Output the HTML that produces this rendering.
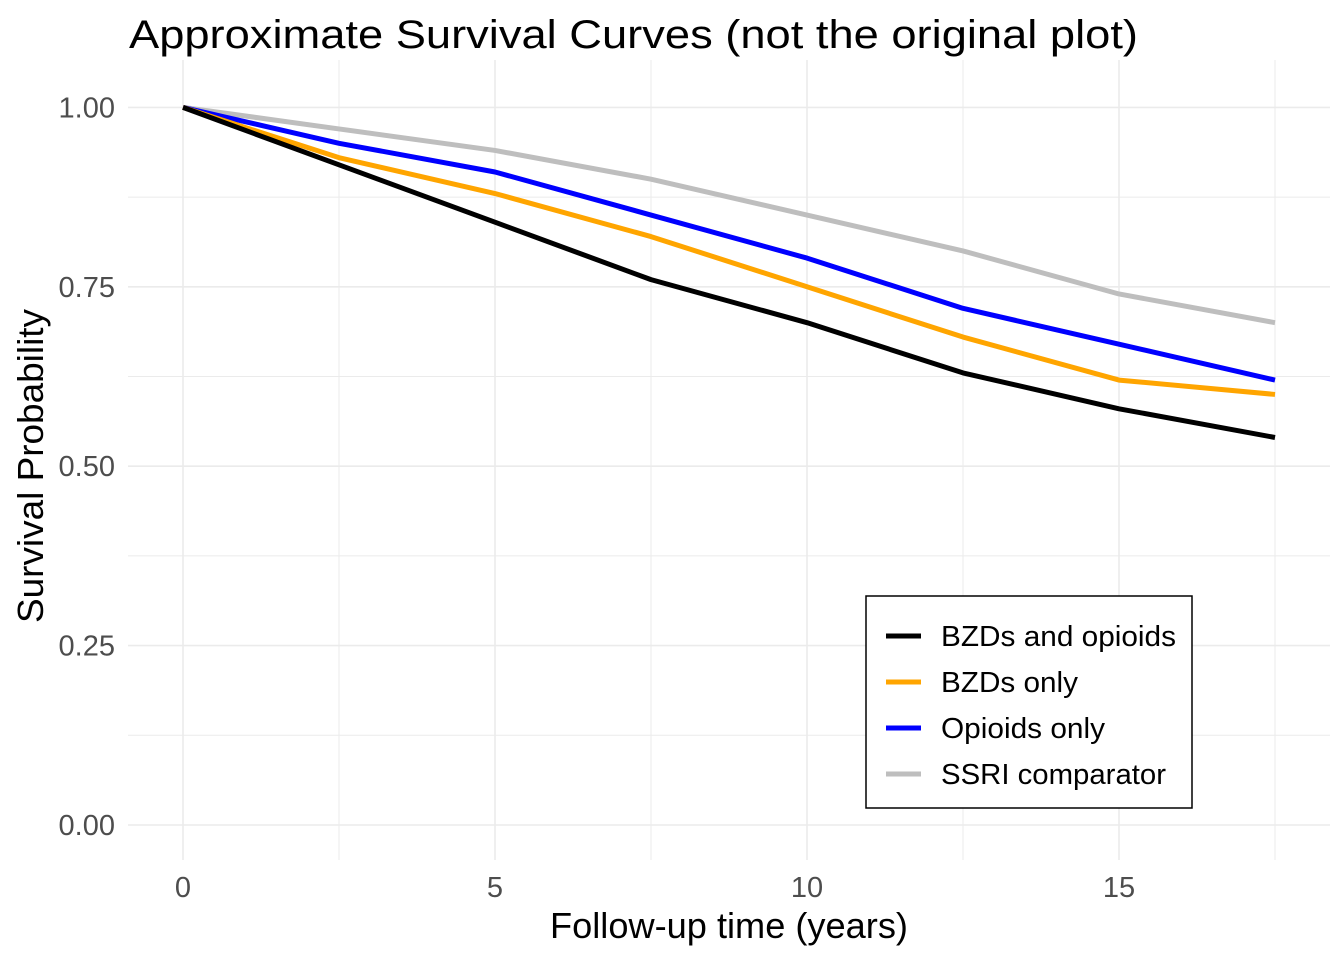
<!DOCTYPE html>
<html><head><meta charset="utf-8"><style>
body{margin:0;background:#fff;font-family:"Liberation Sans",sans-serif}
</style></head><body>
<svg id="chart" width="1344" height="960" xmlns="http://www.w3.org/2000/svg" font-family="Liberation Sans, sans-serif">
<text x="129" y="48" font-size="40" textLength="1009" lengthAdjust="spacingAndGlyphs" fill="#000">Approximate Survival Curves (not the original plot)</text>
<g id="grid"></g><g id="series"></g><g id="axes"></g>
<text x="729" y="938" font-size="36" text-anchor="middle" textLength="358" lengthAdjust="spacingAndGlyphs">Follow-up time (years)</text>
<text transform="translate(43,466) rotate(-90)" font-size="36" text-anchor="middle" textLength="314" lengthAdjust="spacingAndGlyphs">Survival Probability</text>
<g>
<rect x="866" y="596" width="326" height="212" fill="#fff" stroke="#000" stroke-width="1.5"/>
<g id="legend-items"></g>
</g>
</svg>
<script>
const times=[0,2.5,5,7.5,10,12.5,15,17.5];
const bzdOpioids=[1,0.92,0.84,0.76,0.70,0.63,0.58,0.54];
const bzdOnly=[1,0.93,0.88,0.82,0.75,0.68,0.62,0.60];
const opioidsOnly=[1,0.95,0.91,0.85,0.79,0.72,0.67,0.62];
const ssri=[1,0.97,0.94,0.90,0.85,0.80,0.74,0.70];
const seriesNames=["BZDs and opioids","BZDs only","Opioids only","SSRI comparator"];
const xTicks=[0,5,10,15];
const yTicks=[0,0.25,0.5,0.75,1];
const yTickLabels=["0.00","0.25","0.50","0.75","1.00"];
const colors=["#000","#FFA500","#0000FF","#BEBEBE"];
const X=v=>183+v*62.4, Y=v=>825-v*717.6;
const NS="http://www.w3.org/2000/svg";
function mk(t,a,p){const e=document.createElementNS(NS,t);for(const k in a)e.setAttribute(k,a[k]);p.appendChild(e);return e;}
const grid=document.getElementById('grid'),axes=document.getElementById('axes'),ser=document.getElementById('series');
for(let i=0;i<=8;i++){const v=i*0.125;const l=mk('line',{x1:128,x2:1330,y1:Y(v),y2:Y(v),stroke:'#ebebeb','stroke-width':i%2?1:1.6},grid);

}
for(let i=0;i<=7;i++){const v=i*2.5;const l=mk('line',{x1:X(v),x2:X(v),y1:60,y2:860,stroke:'#ebebeb','stroke-width':i%2?1:1.6},grid);

}
xTicks.forEach(v=>{const t=mk('text',{x:X(v),y:897,'font-size':29,'text-anchor':'middle',fill:'#4d4d4d'},axes);t.textContent=v;

});
yTicks.forEach((v,i)=>{const t=mk('text',{x:115,y:Y(v)+10,'font-size':29,'text-anchor':'end',fill:'#4d4d4d'},axes);t.textContent=yTickLabels[i];

});
[bzdOpioids,bzdOnly,opioidsOnly,ssri].forEach((d,k)=>{const p=mk('polyline',{points:d.map((v,i)=>X(times[i])+','+Y(v)).join(' '),fill:'none',stroke:colors[k],'stroke-width':5,'stroke-linejoin':'round'},ser);

});
[3,2,1,0].forEach(k=>ser.appendChild(ser.children[k]));
const li=document.getElementById('legend-items');
const lw=[235,137,164,225];
seriesNames.forEach((n,i)=>{const y=636+i*46;
const g=mk('g',{},li);


mk('line',{x1:886,x2:921,y1:y,y2:y,stroke:colors[i],'stroke-width':5},g);
const t=mk('text',{x:941,y:y+10,'font-size':29,textLength:lw[i],lengthAdjust:'spacingAndGlyphs'},g);t.textContent=n;});
</script>
</body></html>
